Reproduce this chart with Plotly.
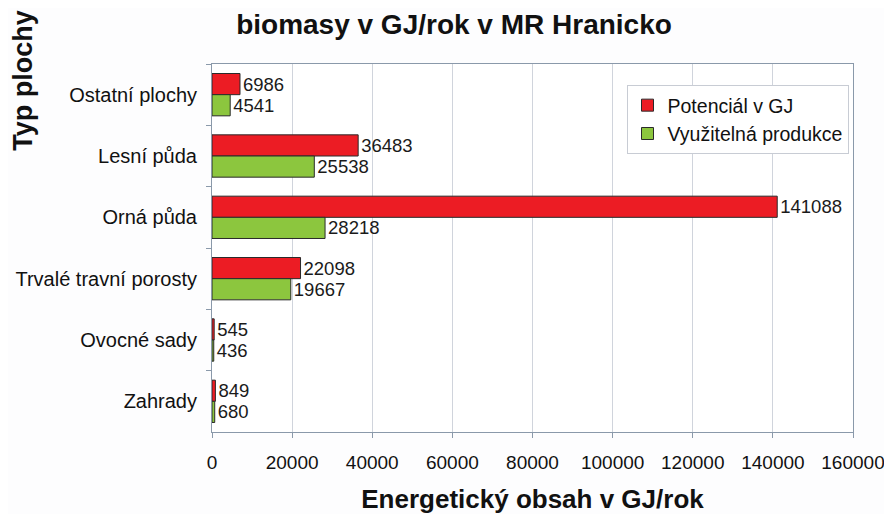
import plotly.graph_objects as go

categories = ["Ostatní plochy", "Lesní půda", "Orná půda", "Trvalé travní porosty", "Ovocné sady", "Zahrady"]
potencial = [6986, 36483, 141088, 22098, 545, 849]
vyuzitelna = [4541, 25538, 28218, 19667, 436, 680]
x_ticks = [0, 20000, 40000, 60000, 80000, 100000, 120000, 140000, 160000]

font = "Liberation Sans, Arial, sans-serif"

fig = go.Figure()
fig.add_trace(go.Bar(
    y=categories, x=potencial, orientation="h", name="Potenciál v GJ",
    marker=dict(color="#ec1c24", line=dict(color="#2a2a2a", width=1)),
    text=[str(v) for v in potencial], textposition="outside",
    textfont=dict(size=18.5, color="#1a1a1a", family=font), cliponaxis=False,
))
fig.add_trace(go.Bar(
    y=categories, x=vyuzitelna, orientation="h", name="Využitelná produkce",
    marker=dict(color="#8cc63e", line=dict(color="#2a2a2a", width=1)),
    text=[str(v) for v in vyuzitelna], textposition="outside",
    textfont=dict(size=18.5, color="#1a1a1a", family=font), cliponaxis=False,
))

fig.update_layout(
    width=892, height=514,
    margin=dict(l=204, r=47, t=56, b=90),
    paper_bgcolor="#fdfdfe", plot_bgcolor="#ffffff",
    barmode="group", bargap=0.31, bargroupgap=0,
    font=dict(family=font, color="#111111"),
    title=dict(text="<b>biomasy v GJ/rok v MR Hranicko</b>", x=0.5, xanchor="center",
               y=0.968, yanchor="middle", font=dict(size=28, family=font, color="#111111")),
    xaxis=dict(
        range=[0, 160000], tickvals=x_ticks, ticktext=[str(v) for v in x_ticks],
        showgrid=True, gridcolor="#d0d4dc", gridwidth=1,
        showline=True, linecolor="#8a99aa", mirror=True, zeroline=False,
        tickfont=dict(size=19, family=font, color="#111111"),
        ticks="outside", ticklen=5, tickcolor="#8a99aa", automargin=False,
        ticklabelstandoff=8,
        title=dict(text="<b>Energetický obsah v GJ/rok</b>", font=dict(size=26, family=font, color="#111111"), standoff=18),
    ),
    yaxis=dict(
        autorange="reversed", showline=True, linecolor="#8a99aa", mirror=True,
        showgrid=False, ticks="outside", ticklen=5, tickcolor="#8a99aa",
        tickson="boundaries", automargin=False, ticklabelstandoff=10,
        tickfont=dict(size=20, family=font, color="#111111"),
    ),
    legend=dict(
        x=0.993, y=0.943, xanchor="right", yanchor="top",
        bgcolor="#ffffff", bordercolor="#c8ccd4", borderwidth=1,
        font=dict(size=19.5, family=font, color="#111111"),
        tracegroupgap=2, itemwidth=30,
    ),
    annotations=[dict(
        text="<b>Typ plochy</b>", textangle=-90, x=-0.296, xref="paper", y=0.955, yref="paper",
        showarrow=False, font=dict(size=27, family=font, color="#111111"),
        xanchor="center", yanchor="middle",
    )],
)

fig.write_html("out.html")
